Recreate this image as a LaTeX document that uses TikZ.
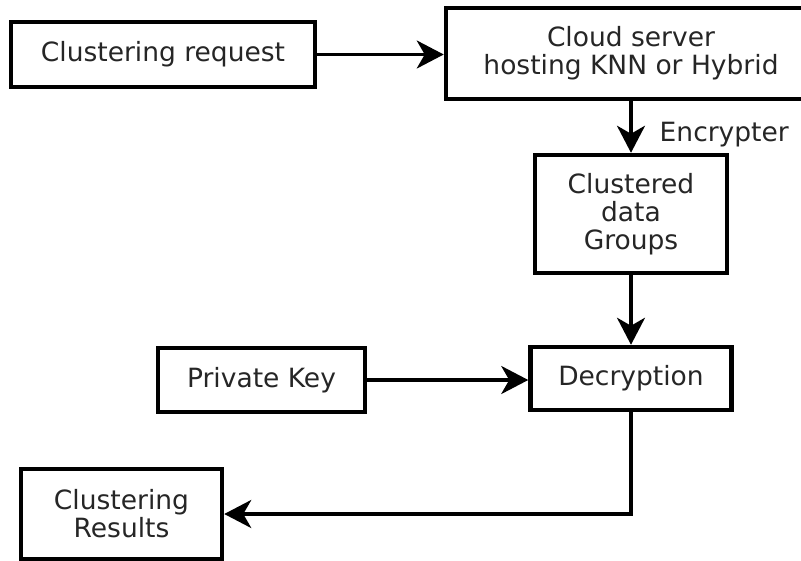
\documentclass[tikz,border=0pt]{standalone}
\usepackage{fontspec}
\setmainfont{DejaVu Sans}
\usetikzlibrary{arrows.meta,positioning}

\tikzset{
  box/.style={draw, line width=4.5pt, fill=white, align=center, text=black!85,
    font=\fontsize{26.5}{28}\selectfont, inner sep=0pt},
  conn/.style={line width=3.4pt, -{Stealth[length=27pt,width=28pt,inset=8pt]}},
  lbl/.style={text=black!85, font=\fontsize{26.5}{28}\selectfont, inner sep=0pt}
}

\begin{document}
\begin{tikzpicture}[x=1pt,y=-1pt]
\useasboundingbox (0,0) rectangle (801,560);
% nodes
\node[box, minimum width=304pt, minimum height=65pt] (req) at (163,54.5) {Clustering request};
\node[box, minimum width=370pt, minimum height=91pt] (cloud) at (631,53.5) {Cloud server\\hosting KNN or Hybrid};
\node[box, minimum width=192pt, minimum height=118pt] (groups) at (631,214) {Clustered\\data\\Groups};
\node[box, minimum width=207pt, minimum height=64pt] (key) at (261.5,380) {Private Key};
\node[box, minimum width=201pt, minimum height=63pt] (dec) at (631,378.5) {Decryption};
\node[box, minimum width=201pt, minimum height=90pt] (res) at (121.5,514) {Clustering\\Results};
% edges
\draw[conn] (req) -- (req -| cloud.west);
\draw[conn] (cloud) -- (groups) node[lbl, pos=0.64, anchor=west, xshift=27pt] (enc) {Encrypter};
\draw[conn] (groups) -- (dec);
\draw[conn] (key) -- (key -| dec.west);
\draw[conn] (dec.south) |- (res.east);
\end{tikzpicture}
\end{document}
